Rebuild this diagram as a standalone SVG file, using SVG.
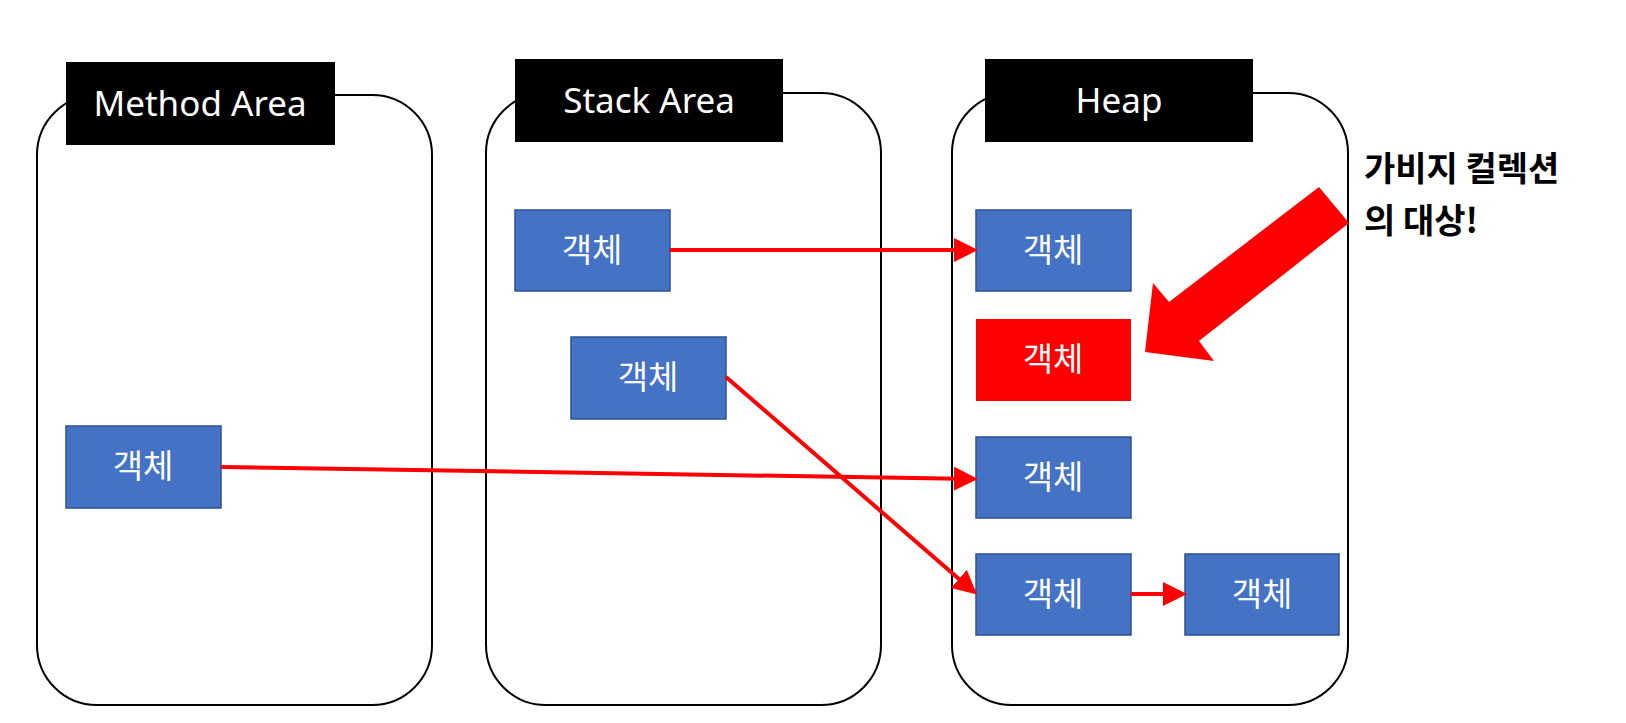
<svg xmlns="http://www.w3.org/2000/svg" width="1626" height="723" viewBox="0 0 1626 723">
<style>
.area{fill:#fff;stroke:#000;stroke-width:2}
.lab{fill:#000}
.lt{fill:#fff;font-family:"Noto Sans","Noto Sans CJK KR",sans-serif;font-size:35px;text-anchor:middle}
.n{fill:#4472c4;stroke:#2f528f;stroke-width:1.5}
.nt{fill:#fff;font-family:"Noto Sans CJK KR",sans-serif;font-size:33px;text-anchor:middle}
.c{stroke:#f00;stroke-width:4;fill:none;marker-end:url(#ah)}
</style>
<defs><marker id="ah" markerWidth="6" markerHeight="6" refX="5" refY="3" orient="auto" markerUnits="strokeWidth"><path d="M0,0L6,3L0,6z" fill="#f00"/></marker></defs>
<rect width="1626" height="723" fill="#fff"/>
<g id="method-area"><rect class="area" x="37" y="95" width="395" height="610" rx="60"/><rect class="lab" x="66" y="62" width="269" height="83"/><text class="lt" x="200" y="116">Method Area</text></g>
<g id="stack-area"><rect class="area" x="486" y="93" width="395" height="612" rx="60"/><rect class="lab" x="515" y="59" width="268" height="83"/><text class="lt" x="649" y="113">Stack Area</text></g>
<g id="heap"><rect class="area" x="952" y="93" width="396" height="612" rx="60"/><rect class="lab" x="985" y="59" width="268" height="83"/><text class="lt" x="1119" y="113">Heap</text></g>
<g id="s1"><rect class="n" x="515" y="210" width="155" height="81"/><text class="nt" x="592" y="262">객체</text></g>
<g id="s2"><rect class="n" x="571" y="337" width="155" height="82"/><text class="nt" x="648" y="389">객체</text></g>
<g id="m1"><rect class="n" x="66" y="426" width="155" height="82"/><text class="nt" x="143" y="478">객체</text></g>
<g id="h1"><rect class="n" x="976" y="210" width="155" height="81"/><text class="nt" x="1053" y="262">객체</text></g>
<g id="h2"><rect x="976" y="319" width="155" height="82" fill="#f00"/><text class="nt" x="1053" y="371">객체</text></g>
<g id="h3"><rect class="n" x="976" y="437" width="155" height="81"/><text class="nt" x="1053" y="489">객체</text></g>
<g id="h4"><rect class="n" x="976" y="554" width="155" height="81"/><text class="nt" x="1053" y="606">객체</text></g>
<g id="h5"><rect class="n" x="1185" y="554" width="154" height="81"/><text class="nt" x="1262" y="606">객체</text></g>
<g id="connectors">
<line class="c" x1="670" y1="250" x2="974" y2="250"/>
<line class="c" x1="726" y1="377" x2="974" y2="592"/>
<line class="c" x1="221" y1="467" x2="974" y2="479"/>
<line class="c" x1="1131" y1="594" x2="1183" y2="594"/>
</g>
<g id="gc-arrow"><polygon points="1319,187 1349,223 1199,341 1214,361 1145,352 1153,283 1169,302" fill="#f00"/></g>
<g id="gc-label" font-family="Noto Sans CJK KR,sans-serif" font-weight="bold" font-size="34" fill="#000"><text x="1364" y="181">가비지 컬렉션</text><text x="1364" y="233">의 대상!</text></g>
</svg>
